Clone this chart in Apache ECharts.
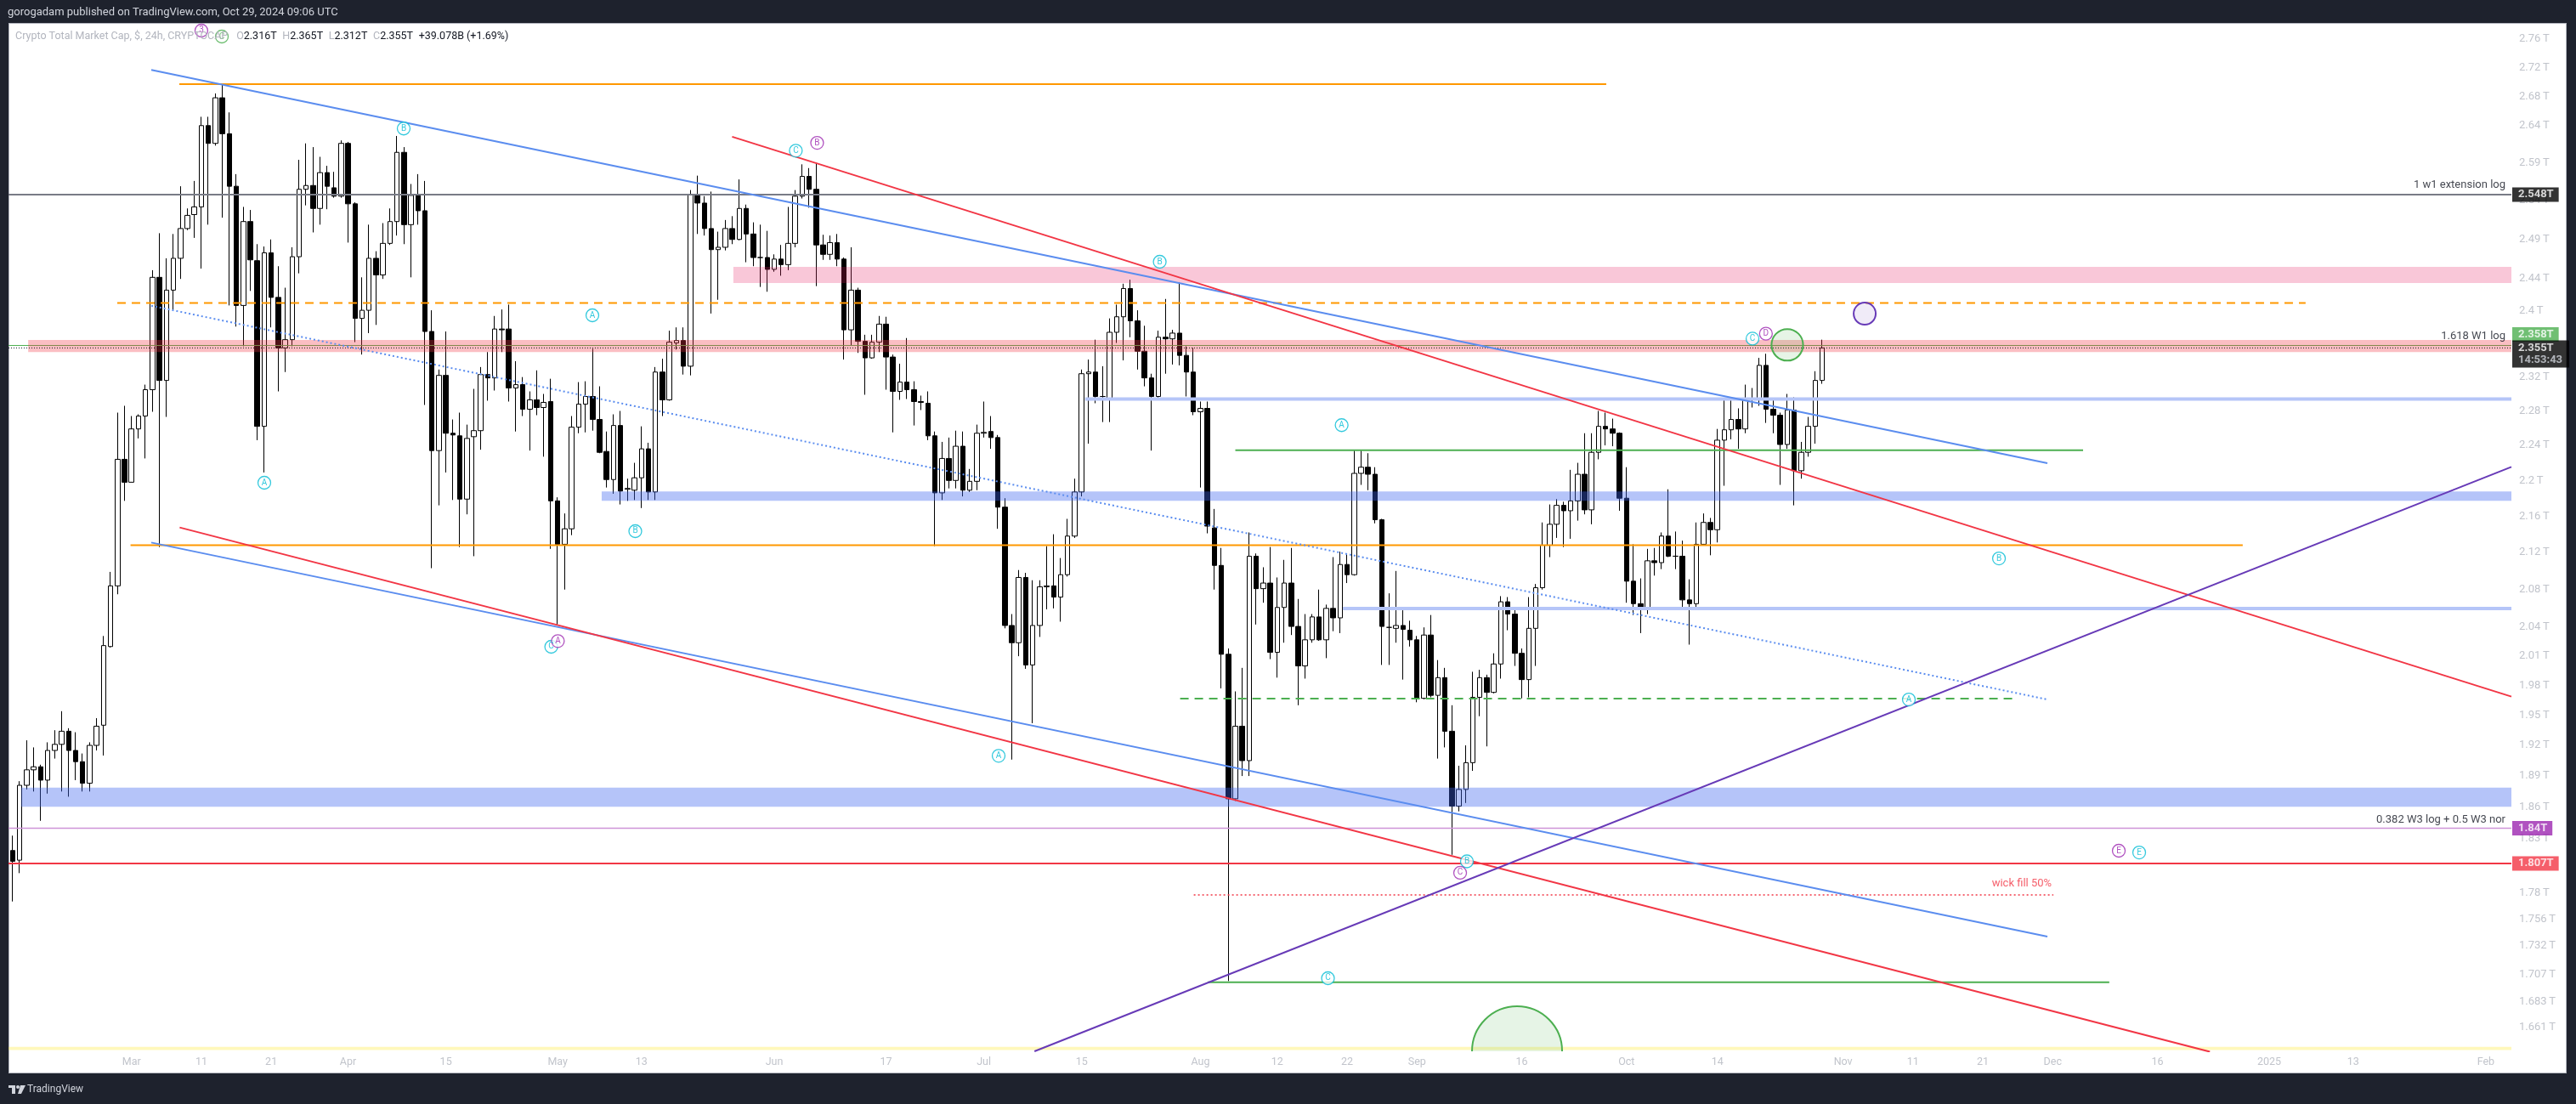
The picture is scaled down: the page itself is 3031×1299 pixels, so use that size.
<!DOCTYPE html>
<html><head><meta charset="utf-8">
<script src="https://cdn.jsdelivr.net/npm/echarts@6/dist/echarts.min.js"></script>
<style>
html,body{margin:0;padding:0;background:#1e222d;width:3031px;height:1299px;overflow:hidden}
#panel{position:absolute;left:10px;top:27px;width:3008px;height:1234px;background:#fff;border:1px solid #b2b5be}
#chart{position:absolute;left:0;top:0;width:3031px;height:1299px}
</style></head>
<body><div id="panel"></div><div id="chart"></div>
<script>
// ---------- data ----------
const firstDay = '2024-02-13';
// daily candles [open, close, low, high] in trillions USD
const candles = [
[1.819,1.809,1.772,1.833],[1.810,1.881,1.798,1.885],[1.881,1.896,1.877,1.925],[1.896,1.899,1.875,1.918],[1.899,1.886,1.847,1.901],
[1.886,1.915,1.873,1.923],[1.915,1.921,1.907,1.935],[1.921,1.934,1.875,1.954],[1.934,1.915,1.870,1.937],[1.915,1.904,1.886,1.933],
[1.904,1.883,1.875,1.912],[1.883,1.920,1.875,1.923],[1.920,1.939,1.915,1.947],[1.940,2.021,1.910,2.031],[2.020,2.084,2.019,2.099],
[2.084,2.224,2.075,2.278],[2.224,2.198,2.177,2.286],[2.198,2.259,2.198,2.274],[2.259,2.274,2.248,2.276],[2.274,2.305,2.225,2.311],
[2.305,2.442,2.279,2.451],[2.442,2.316,2.126,2.498],[2.316,2.426,2.273,2.466],[2.426,2.466,2.401,2.497],[2.466,2.504,2.440,2.559],
[2.504,2.521,2.502,2.530],[2.522,2.532,2.492,2.566],[2.532,2.640,2.453,2.652],[2.640,2.616,2.509,2.652],[2.616,2.678,2.613,2.684],
[2.678,2.629,2.518,2.696],[2.629,2.559,2.407,2.658],[2.559,2.407,2.381,2.575],[2.407,2.513,2.357,2.532],[2.513,2.464,2.425,2.528],
[2.463,2.262,2.246,2.484],[2.262,2.473,2.209,2.481],[2.473,2.417,2.380,2.490],[2.417,2.355,2.303,2.456],[2.355,2.365,2.326,2.429],
[2.365,2.468,2.357,2.480],[2.468,2.555,2.447,2.594],[2.555,2.560,2.534,2.616],[2.560,2.530,2.499,2.611],[2.530,2.577,2.509,2.598],
[2.577,2.559,2.529,2.586],[2.557,2.546,2.544,2.578],[2.546,2.616,2.544,2.620],[2.616,2.536,2.486,2.618],[2.536,2.391,2.362,2.538],
[2.391,2.401,2.347,2.442],[2.401,2.466,2.373,2.509],[2.466,2.445,2.383,2.475],[2.445,2.485,2.440,2.511],[2.485,2.513,2.483,2.530],
[2.513,2.604,2.495,2.626],[2.604,2.509,2.484,2.611],[2.509,2.547,2.442,2.562],[2.547,2.527,2.509,2.575],[2.527,2.375,2.287,2.566],
[2.375,2.234,2.103,2.401],[2.234,2.322,2.172,2.329],[2.322,2.254,2.209,2.375],[2.254,2.252,2.178,2.270],[2.251,2.179,2.126,2.278],
[2.179,2.248,2.162,2.264],[2.250,2.257,2.116,2.306],[2.257,2.323,2.235,2.332],[2.323,2.319,2.292,2.350],[2.319,2.378,2.304,2.394],
[2.378,2.377,2.350,2.402],[2.378,2.307,2.291,2.408],[2.307,2.311,2.256,2.339],[2.311,2.282,2.274,2.320],[2.282,2.293,2.234,2.303],
[2.293,2.284,2.275,2.328],[2.284,2.290,2.227,2.300],[2.291,2.177,2.124,2.318],[2.177,2.129,2.043,2.181],[2.129,2.146,2.080,2.163],
[2.146,2.261,2.139,2.274],[2.261,2.288,2.254,2.314],[2.288,2.297,2.255,2.315],[2.297,2.270,2.257,2.354],[2.270,2.232,2.231,2.309],
[2.233,2.201,2.192,2.256],[2.201,2.263,2.185,2.276],[2.263,2.188,2.173,2.280],[2.190,2.191,2.177,2.202],[2.189,2.203,2.178,2.220],
[2.203,2.236,2.169,2.262],[2.236,2.187,2.178,2.243],[2.187,2.326,2.178,2.332],[2.326,2.293,2.274,2.342],[2.293,2.362,2.292,2.376],
[2.361,2.364,2.353,2.380],[2.364,2.333,2.323,2.380],[2.333,2.548,2.322,2.554],[2.548,2.537,2.497,2.573],[2.537,2.504,2.495,2.546],
[2.504,2.477,2.397,2.552],[2.477,2.480,2.414,2.500],[2.480,2.504,2.476,2.515],[2.504,2.490,2.484,2.520],[2.490,2.530,2.489,2.568],
[2.530,2.497,2.461,2.535],[2.497,2.467,2.456,2.512],[2.467,2.467,2.430,2.509],[2.467,2.452,2.424,2.501],[2.452,2.465,2.449,2.471],
[2.465,2.458,2.444,2.483],[2.458,2.485,2.451,2.532],[2.485,2.546,2.480,2.554],[2.546,2.572,2.543,2.588],[2.572,2.555,2.531,2.583],
[2.555,2.483,2.431,2.590],[2.483,2.471,2.464,2.496],[2.471,2.486,2.464,2.495],[2.486,2.465,2.456,2.497],[2.465,2.377,2.341,2.467],
[2.377,2.426,2.358,2.480],[2.426,2.363,2.349,2.429],[2.363,2.343,2.299,2.371],[2.343,2.362,2.342,2.371],[2.362,2.384,2.350,2.394],
[2.384,2.344,2.305,2.393],[2.344,2.303,2.255,2.347],[2.303,2.314,2.293,2.336],[2.314,2.305,2.294,2.367],[2.305,2.291,2.263,2.315],
[2.291,2.290,2.281,2.298],[2.289,2.251,2.246,2.303],[2.251,2.186,2.127,2.256],[2.186,2.225,2.178,2.244],[2.225,2.200,2.191,2.249],
[2.200,2.239,2.191,2.257],[2.239,2.189,2.182,2.256],[2.189,2.199,2.187,2.213],[2.199,2.254,2.189,2.264],[2.254,2.255,2.249,2.291],
[2.256,2.249,2.236,2.274],[2.249,2.170,2.146,2.252],[2.170,2.042,2.039,2.180],[2.042,2.024,1.906,2.054],[2.024,2.093,2.010,2.101],
[2.093,2.001,1.997,2.098],[2.001,2.042,1.942,2.090],[2.042,2.083,2.030,2.090],[2.083,2.084,2.059,2.127],[2.084,2.072,2.060,2.140],
[2.072,2.096,2.046,2.114],[2.096,2.138,2.094,2.157],[2.138,2.187,2.136,2.202],[2.187,2.324,2.182,2.329],[2.324,2.326,2.242,2.341],
[2.326,2.297,2.289,2.365],[2.297,2.297,2.267,2.333],[2.295,2.374,2.267,2.391],[2.374,2.393,2.361,2.408],[2.393,2.428,2.340,2.434],
[2.428,2.388,2.368,2.439],[2.388,2.351,2.329,2.401],[2.351,2.319,2.309,2.382],[2.319,2.297,2.234,2.324],[2.297,2.368,2.294,2.376],
[2.368,2.366,2.324,2.415],[2.366,2.373,2.335,2.377],[2.373,2.346,2.334,2.436],[2.346,2.326,2.297,2.357],[2.326,2.279,2.275,2.355],
[2.279,2.283,2.192,2.291],[2.283,2.149,2.141,2.291],[2.147,2.106,2.080,2.168],[2.106,2.012,1.977,2.125],[2.012,1.868,1.701,2.018],
[1.868,1.939,1.866,1.974],[1.939,1.905,1.890,1.998],[1.905,2.116,1.890,2.142],[2.116,2.081,2.043,2.119],[2.081,2.087,2.066,2.104],
[2.087,2.014,2.007,2.126],[2.014,2.061,1.988,2.093],[2.061,2.087,2.024,2.112],[2.087,2.041,2.032,2.125],[2.041,2.000,1.960,2.070],
[2.000,2.027,1.987,2.054],[2.027,2.051,2.024,2.054],[2.051,2.027,2.026,2.080],[2.027,2.060,2.008,2.064],[2.060,2.050,2.036,2.115],
[2.050,2.107,2.034,2.121],[2.107,2.096,2.087,2.118],[2.096,2.208,2.095,2.234],[2.208,2.215,2.195,2.234],[2.215,2.207,2.189,2.231],
[2.207,2.156,2.152,2.215],[2.156,2.041,2.001,2.157],[2.040,2.040,2.001,2.076],[2.039,2.042,2.024,2.100],[2.042,2.038,1.986,2.058],
[2.037,2.027,2.020,2.047],[2.027,1.967,1.963,2.031],[1.967,2.032,1.966,2.040],[2.032,1.970,1.968,2.053],[1.970,1.988,1.907,2.006],
[1.988,1.934,1.918,1.998],[1.934,1.861,1.815,1.960],[1.861,1.877,1.856,1.900],[1.877,1.903,1.864,1.920],[1.903,1.968,1.895,1.994],
[1.968,1.988,1.949,1.996],[1.988,1.973,1.919,1.991],[1.973,2.002,1.972,2.013],[2.002,2.067,1.987,2.073],[2.067,2.054,2.037,2.072],
[2.054,2.013,2.000,2.061],[2.013,1.986,1.967,2.018],[1.986,2.039,1.968,2.072],[2.039,2.082,2.000,2.086],[2.082,2.128,2.080,2.153],
[2.128,2.151,2.115,2.173],[2.151,2.172,2.136,2.179],[2.172,2.166,2.126,2.176],[2.166,2.177,2.135,2.212],[2.177,2.207,2.155,2.220],
[2.207,2.167,2.162,2.254],[2.167,2.232,2.151,2.254],[2.232,2.262,2.224,2.280],[2.262,2.259,2.240,2.278],[2.259,2.254,2.239,2.271],
[2.254,2.180,2.166,2.255],[2.180,2.089,2.066,2.215],[2.089,2.065,2.053,2.129],[2.065,2.061,2.034,2.092],[2.061,2.111,2.054,2.124],
[2.111,2.109,2.095,2.125],[2.109,2.138,2.102,2.142],[2.138,2.116,2.115,2.190],[2.116,2.116,2.102,2.143],[2.116,2.069,2.060,2.133],
[2.069,2.065,2.022,2.091],[2.065,2.129,2.059,2.153],[2.129,2.153,2.128,2.163],[2.153,2.145,2.117,2.158],[2.145,2.246,2.131,2.259],
[2.246,2.258,2.194,2.295],[2.258,2.270,2.247,2.294],[2.270,2.259,2.236,2.283],[2.259,2.293,2.254,2.311],[2.293,2.295,2.284,2.307],
[2.295,2.334,2.286,2.343],[2.334,2.282,2.266,2.348],[2.282,2.275,2.254,2.294],[2.275,2.241,2.195,2.278],[2.241,2.281,2.236,2.300],
[2.281,2.211,2.172,2.296],[2.211,2.232,2.202,2.244],[2.232,2.262,2.227,2.273],[2.262,2.316,2.242,2.327],[2.316,2.355,2.312,2.365]
];
// price-axis tick labels (trillions)
const priceTicks = [2.76,2.72,2.68,2.64,2.59,2.54,2.49,2.44,2.4,2.32,2.28,2.24,2.2,2.16,2.12,2.08,2.04,2.01,1.98,1.95,1.92,1.89,1.86,1.83,1.78,1.756,1.732,1.707,1.683,1.661];
// time-axis tick labels
const timeTicks = ['2024-03-01','2024-03-11','2024-03-21','2024-04-01','2024-04-15','2024-05-01','2024-05-13','2024-06-01','2024-06-17','2024-07-01','2024-07-15','2024-08-01','2024-08-12','2024-08-22','2024-09-01','2024-09-16','2024-10-01','2024-10-14','2024-11-01','2024-11-11','2024-11-21','2024-12-01','2024-12-16','2025-01-01','2025-01-13','2025-02-01'];
const timeLabels = ['Mar','11','21','Apr','15','May','13','Jun','17','Jul','15','Aug','12','22','Sep','16','Oct','14','Nov','11','21','Dec','16','2025','13','Feb'];
// visible range in bars (days after firstDay)
const viewBars = [-0.608, 357.66];
const viewPrice = [1.6407, 2.783];
const XL = viewBars[0], XR = viewBars[1];
// horizontal drawings: [fromBar, toBar, price, style]
const hLines = [
  [23.84, 228.1, 2.697, 'orange'],
  [XL, XR, 2.548, 'gray'],
  [14.96, 328.2, 2.410, 'orangeDash'],
  [XL, XR, 2.358, 'greenThin'],
  [153.5, XR, 2.2941, 'lightBlue'],
  [175.0, 296.35, 2.2344, 'green'],
  [16.86, 319.2, 2.1281, 'orange'],
  [190.4, XR, 2.0599, 'lightBlue'],
  [167.1, 286.98, 1.9667, 'greenDash'],
  [XL, XR, 1.84, 'purpleThin'],
  [XL, XR, 1.807, 'red'],
  [169.05, 292.1, 1.778, 'redDot'],
  [171.05, 300.1, 1.700, 'green']
];
const lastPriceLine = [XL, XR, 2.355, 'priceDot'];
// zones: [fromBar, toBar, lowPrice, highPrice, style]
const zones = [
  [103.15, XR, 2.4348, 2.4551, 'pink'],
  [2.21, XR, 2.350, 2.3646, 'rose'],
  [84.3, XR, 2.1771, 2.1875, 'blue'],
  [1.22, XR, 1.8604, 1.8788, 'blue'],
  [XL, XR, 1.6417, 1.6445, 'yellow']
];
// trend lines: [bar1, price1, bar2, price2, style]
const trendLines = [
  [19.83, 2.7166, 291.24, 2.2195, 'blue'],
  [19.83, 2.1309, 291.24, 1.7404, 'blue'],
  [19.83, 2.4066, 291.24, 1.9658, 'blueDot'],
  [102.97, 2.6250, XR, 1.9687, 'red'],
  [23.89, 2.1475, 314.5, 1.6403, 'red'],
  [146.25, 1.6407, XR, 2.2154, 'purple']
];
// circles: [centerBar, centerPrice, radiusBars, style]
const circles = [
  [254.01, 2.3587, 2.26, 'green'],
  [265.09, 2.3968, 1.58, 'purple'],
  [215.33, 1.6407, 6.45, 'green']
];
// wave labels: [bar, price, text]
const waveCyan = [[55.96,2.636,'B'],[82.97,2.3948,'A'],[36.01,2.1974,'A'],[89.11,2.1434,'B'],[77.08,2.0198,'C'],[112.09,2.6062,'C'],[164.18,2.4616,'B'],[141.12,1.9097,'A'],[190.22,2.2634,'A'],[188.26,1.7035,'C'],[208.15,1.8089,'B'],[249.03,2.3663,'C'],[284.31,2.1136,'B'],[271.41,1.9658,'A'],[304.38,1.8172,'E']];
const wavePurple = [[78.03,2.0257,'A'],[115.14,2.6167,'B'],[207.18,1.7983,'C'],[250.95,2.3723,'D'],[301.46,1.8188,'E'],[27.0,2.7721,'3']];
const waveGreen = [[29.93,2.7636,'C']];
// notes: [bar, price, text]
const notes = [
  [XR, 2.548, '1 w1 extension log'],
  [XR, 2.358, '1.618 W1 log'],
  [XR, 1.84, '0.382 W3 log + 0.5 W3 nor'],
  [292.1, 1.778, 'wick fill 50%']
];
// price tags: [price, text]
const priceTags = [
  [2.548, '2.548T'],
  [2.358, '2.358T'],
  [2.355, '2.355T'],
  [1.84, '1.84T'],
  [1.807, '1.807T']
];
const countdown = '14:53:43';

// ---------- styles ----------
const lineStyles = {
  orange:{color:'#ff9800',width:2,type:'solid'},
  orangeDash:{color:'#ff9800',width:2,type:[10,7]},
  gray:{color:'#787b86',width:2,type:'solid'},
  greenThin:{color:'#4caf50',width:1,type:'solid'},
  green:{color:'#4caf50',width:2,type:'solid'},
  greenDash:{color:'#4caf50',width:2,type:[10,7]},
  lightBlue:{color:'#b5c5f8',width:4,type:'solid'},
  purpleThin:{color:'#ce93d8',width:1.5,type:'solid'},
  red:{color:'#f23645',width:2,type:'solid'},
  redDot:{color:'#f23645',width:1.5,type:[2,3]},
  priceDot:{color:'#131722',width:1,type:[1,2]},
  blue:{color:'#5b8def',width:2,type:'solid'},
  blueDot:{color:'#5b8def',width:2,type:[2,3]},
  purple:{color:'#673ab7',width:2,type:'solid'}
};
const zoneColors = {pink:'rgba(233,30,99,0.25)', rose:'rgba(242,54,69,0.32)', blue:'rgba(60,100,240,0.38)', yellow:'rgba(255,235,59,0.35)'};
const circleStyles = {green:{stroke:'#4caf50',fill:'rgba(76,175,80,0.14)'}, purple:{stroke:'#673ab7',fill:'rgba(103,58,183,0.10)'}};
const noteStyles = [
  {dx:-7,dy:-11,color:'#131722'},{dx:-7,dy:-11,color:'#131722'},{dx:-7,dy:-10,color:'#131722'},{dx:-2,dy:-13,color:'#f23645'}
];
const tagStyles = [
  {bg:'#000000',dy:0},{bg:'#4caf50',dy:-13},{bg:'#000000',dy:7,two:true},{bg:'#9c27b0',dy:0},{bg:'#f23645',dy:0}
];
const FONT = 'Roboto, "Noto Sans", sans-serif';

// ---------- build ----------
const DAY = 86400000;
const T0 = Date.parse(firstDay + 'T00:00:00Z');
const barTime = i => T0 + i * DAY;

const series = [];
series.push({
  type:'candlestick', z:2, barWidth:6, silent:true,
  encode:{x:0, y:[1,2,3,4]},
  data: candles.map((c,i)=>[barTime(i), c[0], c[1], c[2], c[3]]),
  itemStyle:{color:'#ffffff', color0:'#000000', borderColor:'#000000', borderColor0:'#000000', borderWidth:1}
});
series.push({
  type:'custom', z:3, silent:true, clip:true,
  data: zones.map(z=>[barTime(z[0]), barTime(z[1]), z[2], z[3]]),
  encode:{x:[0,1], y:[2,3]},
  renderItem:(params, api)=>{
    const z = zones[params.dataIndex];
    const a = api.coord([barTime(z[0]), z[3]]);
    const b = api.coord([barTime(z[1]), z[2]]);
    return {type:'rect', shape:{x:a[0], y:a[1], width:b[0]-a[0], height:b[1]-a[1]}, style:{fill:zoneColors[z[4]]}};
  }
});
const lineSeries = (pts, st, z) => ({
  type:'line', z:z, silent:true, symbol:'none', animation:false, clip:true,
  data: pts, lineStyle: lineStyles[st]
});
series.push(lineSeries([[barTime(lastPriceLine[0]), lastPriceLine[2]], [barTime(lastPriceLine[1]), lastPriceLine[2]]], lastPriceLine[3], 4));
hLines.forEach(h => series.push(lineSeries([[barTime(h[0]), h[2]], [barTime(h[1]), h[2]]], h[3], h[3]==='greenThin'?2.5:4)));
trendLines.forEach(t => series.push(lineSeries([[barTime(t[0]), t[1]], [barTime(t[2]), t[3]]], t[4], 4)));
series.push({
  type:'custom', z:5, silent:true, clip:true,
  data: circles.map(c=>[barTime(c[0]), c[1]]),
  encode:{x:0, y:1},
  renderItem:(params, api)=>{
    const c = circles[params.dataIndex];
    const p = api.coord([barTime(c[0]), c[1]]);
    const e = api.coord([barTime(c[0] + c[2]), c[1]]);
    const st = circleStyles[c[3]];
    return {type:'circle', shape:{cx:p[0], cy:p[1], r:Math.abs(e[0]-p[0])}, style:{fill:st.fill, stroke:st.stroke, lineWidth:2}};
  }
});
const waveSeries = (arr, color) => ({
  type:'scatter', z:6, silent:true, clip:false, symbol:'circle', symbolSize:15,
  data: arr.map(w=>[barTime(w[0]), w[1], w[2]]),
  itemStyle:{color:'#ffffff', borderColor:color, borderWidth:1.3},
  label:{show:true, position:'inside', formatter:p=>p.value[2], color:color, fontSize:10, fontFamily:FONT}
});
series.push(waveSeries(waveCyan, '#00bcd4'));
series.push(waveSeries(wavePurple, '#9c27b0'));
series.push(waveSeries(waveGreen, '#4caf50'));
// notes
notes.forEach((n, k) => {
  const s = noteStyles[k];
  series.push({type:'scatter', z:7, silent:true, clip:false, symbolSize:0,
    data:[[barTime(n[0]), n[1], n[2]]],
    label:{show:true, position:[s.dx, s.dy], align:'right', verticalAlign:'middle', formatter:p=>p.value[2], color:s.color, fontSize:13, fontFamily:FONT}});
});
// price axis tick labels
series.push({type:'scatter', z:8, silent:true, clip:false, symbolSize:0,
  data: priceTicks.map(v=>[barTime(XR), v]),
  label:{show:true, position:'right', distance:9, formatter:p=>p.value[1] + '\u2009T', color:'#b2b5be', fontSize:13, fontFamily:FONT}});
// price tags
priceTags.forEach((t, k) => {
  const s = tagStyles[k];
  series.push({type:'scatter', z:9, silent:true, clip:false, symbolSize:0,
    data:[[barTime(XR), t[0], t[1]]],
    label:{show:true, position:[1, s.dy], align:'left', verticalAlign:'middle',
      formatter: s.two ? (p=>'{a|' + p.value[2] + '}\n{b|' + countdown + '}') : (p=>p.value[2]),
      backgroundColor:s.bg, color:'#ffffff', fontSize:13, fontWeight:'bold', fontFamily:FONT,
      padding: s.two ? [2,8,2,7] : [2,6,1,7], lineHeight:14,
      rich: s.two ? {a:{color:'#ffffff', fontSize:13, fontWeight:'bold', fontFamily:FONT, lineHeight:14}, b:{color:'#d1d4dc', fontSize:13, fontFamily:FONT, lineHeight:14}} : undefined}});
});
// time axis labels
series.push({type:'scatter', z:8, silent:true, clip:false, symbolSize:0,
  data: timeTicks.map((d,k)=>[Date.parse(d + 'T00:00:00Z'), viewPrice[0], timeLabels[k]]),
  label:{show:true, position:'bottom', distance:6, formatter:p=>p.value[2], color:'#b2b5be', fontSize:12.5, fontFamily:FONT}});

const chart = echarts.init(document.getElementById('chart'), null, {renderer:'canvas'});
chart.setOption({
  backgroundColor:'transparent',
  animation:false,
  grid:{left:10, right:76, top:27, bottom:62, outerBoundsMode:'none', containLabel:false},
  xAxis:{type:'time', min:barTime(XL), max:barTime(XR), axisLine:{show:false}, axisTick:{show:false}, axisLabel:{show:false}, splitLine:{show:false}},
  yAxis:{type:'log', logBase:10, min:viewPrice[0], max:viewPrice[1], position:'right', axisLine:{show:false}, axisTick:{show:false}, axisLabel:{show:false}, splitLine:{show:false}},
  graphic:[
    {type:'text', left:9, top:8, style:{text:'gorogadam published on TradingView.com, Oct 29, 2024 09:06 UTC', fill:'#d1d4dc', font:'13px ' + FONT}},
    {type:'text', left:18, top:36, z:20, style:{
      text:'{n|Crypto Total Market Cap, $, 24h, CRYPTOCAP}   {k|O}{v|2.316T}  {k|H}{v|2.365T}  {k|L}{v|2.312T}  {k|C}{v|2.355T}  {v|+39.078B (+1.69%)}',
      rich:{n:{fill:'#b2b5be', font:'12.5px ' + FONT}, k:{fill:'#b2b5be', font:'12.5px ' + FONT}, v:{fill:'#131722', font:'12.5px ' + FONT}}}},
    {type:'group', left:10, top:1277, children:[
      {type:'rect', shape:{x:0,y:0,width:8,height:3}, style:{fill:'#d1d4dc'}},
      {type:'rect', shape:{x:4,y:0,width:4,height:10}, style:{fill:'#d1d4dc'}},
      {type:'circle', shape:{cx:11,cy:2,r:2}, style:{fill:'#d1d4dc'}},
      {type:'polygon', shape:{points:[[14,0],[20,0],[15,10],[11,10]]}, style:{fill:'#d1d4dc'}}
    ]},
    {type:'text', left:32, top:1276, style:{text:'TradingView', fill:'#d1d4dc', font:'12px ' + FONT}}
  ],
  series: series
});
</script></body></html>
